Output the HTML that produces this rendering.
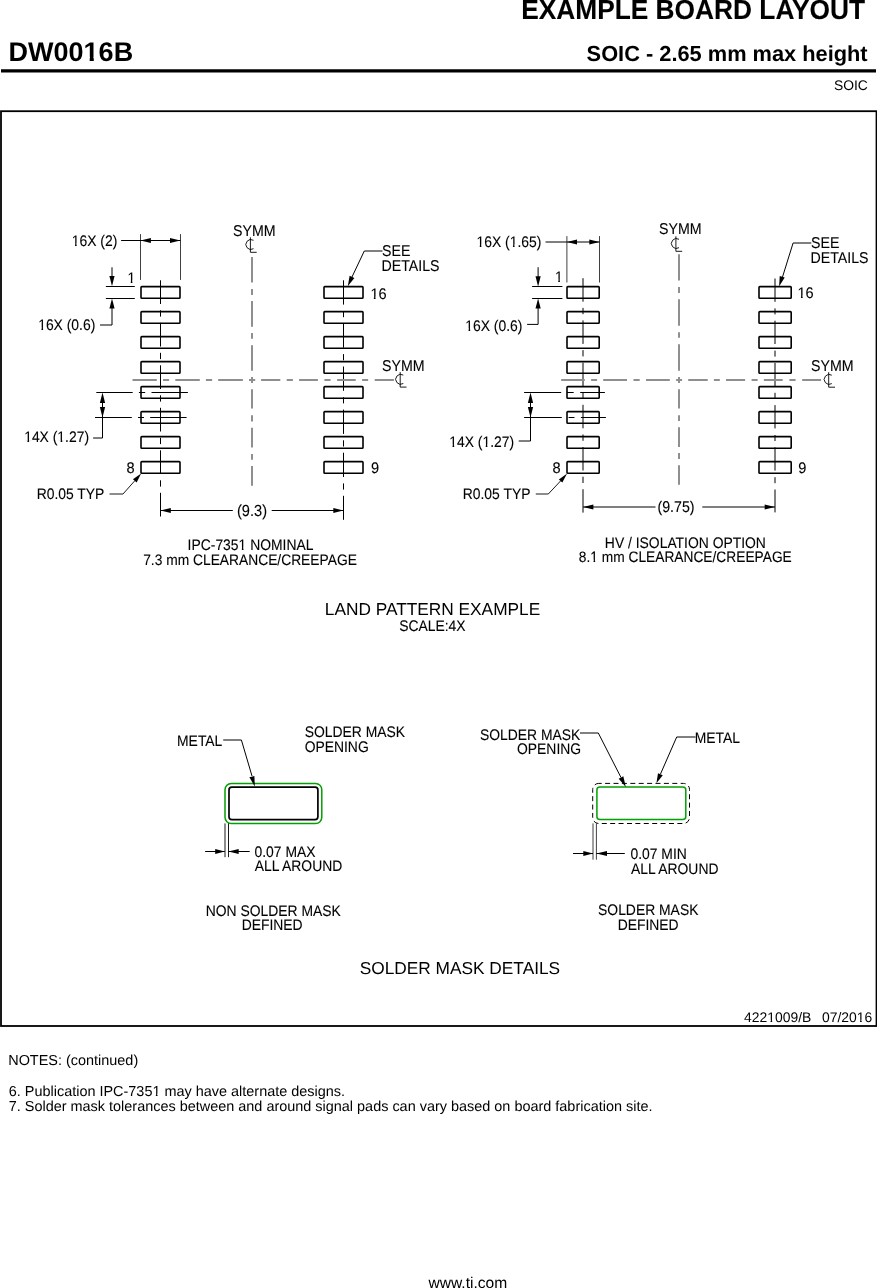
<!DOCTYPE html>
<html><head><meta charset="utf-8"><style>
html,body{margin:0;padding:0;background:#fff;}
body{width:877px;height:1288px;overflow:hidden;position:relative;}
svg{position:absolute;left:0;top:0;}
svg{will-change:transform;text-rendering:geometricPrecision;}
text{font-family:"Liberation Sans",sans-serif;}
text.s{stroke:#000;stroke-width:0.1px;}
</style></head><body>
<svg width="877" height="1288" viewBox="0 0 877 1288">
<text class="s" transform="translate(521.19,18.80) scale(1,1.05)" font-size="26.3" font-weight="bold" fill="#000">EXAMPLE BOARD LAYOUT</text>
<text x="8.58" y="60.70" font-size="27.0" font-weight="bold" fill="#000">DW0016B</text><rect x="84.48" y="56.94" width="5.20" height="5.06" fill="#fff"/><rect x="93.79" y="56.94" width="4.86" height="5.06" fill="#fff"/>
<text x="586.62" y="60.50" font-size="21.8" font-weight="bold" fill="#000">SOIC - 2.65 mm max height</text>
<line x1="1" y1="70.8" x2="876" y2="70.8" stroke="#000" stroke-width="3.3"/>
<text x="833.94" y="89.80" font-size="13.9" fill="#000">SOIC</text>
<rect x="1" y="111.2" width="875.5" height="914.8" fill="none" stroke="#000" stroke-width="1.8"/>
<rect x="141" y="286.6" width="39" height="11.6" rx="0.8" fill="none" stroke="#000" stroke-width="1.6"/>
<rect x="324" y="286.6" width="39" height="11.6" rx="0.8" fill="none" stroke="#000" stroke-width="1.6"/>
<rect x="141" y="311.6" width="39" height="11.6" rx="0.8" fill="none" stroke="#000" stroke-width="1.6"/>
<rect x="324" y="311.6" width="39" height="11.6" rx="0.8" fill="none" stroke="#000" stroke-width="1.6"/>
<rect x="141" y="336.6" width="39" height="11.6" rx="0.8" fill="none" stroke="#000" stroke-width="1.6"/>
<rect x="324" y="336.6" width="39" height="11.6" rx="0.8" fill="none" stroke="#000" stroke-width="1.6"/>
<rect x="141" y="361.6" width="39" height="11.6" rx="0.8" fill="none" stroke="#000" stroke-width="1.6"/>
<rect x="324" y="361.6" width="39" height="11.6" rx="0.8" fill="none" stroke="#000" stroke-width="1.6"/>
<rect x="141" y="386.6" width="39" height="11.6" rx="0.8" fill="none" stroke="#000" stroke-width="1.6"/>
<rect x="324" y="386.6" width="39" height="11.6" rx="0.8" fill="none" stroke="#000" stroke-width="1.6"/>
<rect x="141" y="411.6" width="39" height="11.6" rx="0.8" fill="none" stroke="#000" stroke-width="1.6"/>
<rect x="324" y="411.6" width="39" height="11.6" rx="0.8" fill="none" stroke="#000" stroke-width="1.6"/>
<rect x="141" y="436.6" width="39" height="11.6" rx="0.8" fill="none" stroke="#000" stroke-width="1.6"/>
<rect x="324" y="436.6" width="39" height="11.6" rx="0.8" fill="none" stroke="#000" stroke-width="1.6"/>
<rect x="141" y="461.6" width="39" height="11.6" rx="0.8" fill="none" stroke="#000" stroke-width="1.6"/>
<rect x="324" y="461.6" width="39" height="11.6" rx="0.8" fill="none" stroke="#000" stroke-width="1.6"/>
<path d="M160.5,280.3V304.0M160.5,310.3V316.6M160.5,322.8V346.5M160.5,352.8V359.1M160.5,365.3V389.0M160.5,395.3V401.6M160.5,407.8V431.5M160.5,437.8V444.1M160.5,450.3V474.0M160.5,480.3V486.6M160.5,492.8V516.5" stroke="#000" stroke-width="1" fill="none"/>
<path d="M343.5,280.3V304.6M343.5,311.0V317.2M343.5,323.4V347.7M343.5,354.1V360.3M343.5,366.5V390.8M343.5,397.2V403.4M343.5,409.6V433.9M343.5,440.3V446.5M343.5,452.7V477.0M343.5,483.4V489.6M343.5,495.8V519.8" stroke="#000" stroke-width="1" fill="none"/>
<path d="M252,257V282.6M252,288.9V295M252,301.1V326.7M252,333.1V338.8M252,345.2V370.7M252,377V383M252,389.3V408.6M252,415.2V421.5M252,427.8V447.4M252,453.9V459.8M252,466.1V485.7" stroke="#8f8f8f" stroke-width="2" fill="none"/>
<path d="M132.5,380H156.8M163,380H169.1M175.3,380H199.8M205.9,380H212.1M218.2,380H242.9M249,380H255.2M261.1,380H280.3M286.7,380H292.9M299.1,380H317.9M324.4,380H330.6M337.1,380H355.7M362.1,380H368.1M374.7,380H393.9" stroke="#8f8f8f" stroke-width="2" fill="none"/>
<text class="s" transform="translate(232.96,235.80) scale(1,1.1)" font-size="14.2" fill="#000">SYMM</text>
<path d="M253.50,240.30A4.96,4.96 0 1 0 253.50,248.70" stroke="#000" stroke-width="0.9" fill="none"/>
<path d="M250.4,237.3V252.3H256.7" stroke="#000" stroke-width="0.9" fill="none"/>
<text class="s" transform="translate(381.96,370.80) scale(1,1.1)" font-size="14.2" fill="#000">SYMM</text>
<path d="M403.30,375.10A4.96,4.96 0 1 0 403.30,383.50" stroke="#000" stroke-width="0.9" fill="none"/>
<path d="M400.2,372.1V387.1H406.5" stroke="#000" stroke-width="0.9" fill="none"/>
<line x1="140.5" y1="234.1" x2="140.5" y2="279.9" stroke="#000" stroke-width="0.75"/>
<line x1="180.5" y1="234.1" x2="180.5" y2="279.9" stroke="#000" stroke-width="0.75"/>
<line x1="121.1" y1="240.5" x2="180.5" y2="240.5" stroke="#000" stroke-width="1"/>
<path d="M140.60,240.50L150.90,243.10L150.90,237.90Z" fill="#000"/>
<path d="M180.40,240.50L170.00,237.90L170.00,243.10Z" fill="#000"/>
<text class="s" transform="translate(71.74,245.50) scale(1,1.1)" font-size="13.9" fill="#000">16X (2)</text><g transform="translate(71.74,245.50) scale(1,1.1)"><rect x="0.26" y="-2.04" width="3.04" height="3.34" fill="#fff"/><rect x="4.92" y="-2.04" width="2.93" height="3.34" fill="#fff"/></g>
<text class="s" transform="translate(127.46,282.70) scale(1,1.1)" font-size="13.9" fill="#000">1</text><g transform="translate(127.46,282.70) scale(1,1.1)"><rect x="0.26" y="-2.04" width="3.04" height="3.34" fill="#fff"/><rect x="4.92" y="-2.04" width="2.93" height="3.34" fill="#fff"/></g>
<line x1="105.9" y1="286.5" x2="134.8" y2="286.5" stroke="#000" stroke-width="1"/>
<line x1="105.9" y1="298.5" x2="134.8" y2="298.5" stroke="#000" stroke-width="1"/>
<line x1="112" y1="267.3" x2="112" y2="280" stroke="#000" stroke-width="1"/>
<path d="M112.00,286.30L114.60,276.00L109.40,276.00Z" fill="#000"/>
<path d="M112.00,298.60L109.40,308.60L114.60,308.60Z" fill="#000"/>
<path d="M112,305V325H100" stroke="#000" stroke-width="1" fill="none"/>
<text class="s" transform="translate(38.16,329.70) scale(1,1.1)" font-size="13.9" fill="#000">16X (0.6)</text><g transform="translate(38.16,329.70) scale(1,1.1)"><rect x="0.26" y="-2.04" width="3.04" height="3.34" fill="#fff"/><rect x="4.92" y="-2.04" width="2.93" height="3.34" fill="#fff"/></g>
<path d="M96.3,392.5H132.7M138.9,392.5H145.2M151.5,392.5H187.9" stroke="#000" stroke-width="1" fill="none"/>
<path d="M95,417.5H131.8M138,417.5H144M150.2,417.5H186.6" stroke="#000" stroke-width="1" fill="none"/>
<path d="M102.5,400V438H93.1" stroke="#000" stroke-width="1" fill="none"/>
<path d="M102.50,392.50L99.90,403.00L105.10,403.00Z" fill="#000"/>
<path d="M102.50,417.50L105.10,407.00L99.90,407.00Z" fill="#000"/>
<text class="s" transform="translate(24.16,442.40) scale(1,1.1)" font-size="13.9" fill="#000">14X (1.27)</text><g transform="translate(24.16,442.40) scale(1,1.1)"><rect x="0.26" y="-2.04" width="3.04" height="3.34" fill="#fff"/><rect x="4.92" y="-2.04" width="2.93" height="3.34" fill="#fff"/><rect x="33.45" y="-2.04" width="3.04" height="3.34" fill="#fff"/><rect x="38.11" y="-2.04" width="2.93" height="3.34" fill="#fff"/></g>
<text class="s" transform="translate(126.48,472.70) scale(1,1.045)" font-size="14.6" fill="#000">8</text>
<text class="s" transform="translate(36.65,498.50) scale(1,1.1)" font-size="13.9" fill="#000">R0.05 TYP</text>
<path d="M109.5,494H123L135,480.5" stroke="#000" stroke-width="0.9" fill="none"/>
<path d="M141.10,473.40L132.96,479.36L136.64,482.44Z" fill="#000"/>
<line x1="160.5" y1="510.5" x2="232.8" y2="510.5" stroke="#000" stroke-width="1"/>
<line x1="271.7" y1="510.5" x2="343.3" y2="510.5" stroke="#000" stroke-width="1"/>
<path d="M160.50,510.50L170.80,513.10L170.80,507.90Z" fill="#000"/>
<path d="M343.30,510.50L333.30,507.90L333.30,513.10Z" fill="#000"/>
<text class="s" transform="translate(236.99,515.90) scale(1,1.1)" font-size="14.6" fill="#000">(9.3)</text>
<text class="s" transform="translate(187.61,549.70) scale(1,1.1)" font-size="13.9" fill="#000">IPC-7351 NOMINAL</text><g transform="translate(187.61,549.70) scale(1,1.1)"><rect x="51.21" y="-2.04" width="3.04" height="3.34" fill="#fff"/><rect x="55.88" y="-2.04" width="2.93" height="3.34" fill="#fff"/></g>
<text class="s" transform="translate(143.19,564.60) scale(1,1.1)" font-size="13.8" fill="#000">7.3 mm CLEARANCE/CREEPAGE</text>
<text class="s" transform="translate(370.40,298.90) scale(1,1.045)" font-size="14.6" fill="#000">16</text><g transform="translate(370.40,298.90) scale(1,1.045)"><rect x="0.31" y="-2.09" width="3.16" height="3.39" fill="#fff"/><rect x="5.16" y="-2.09" width="3.05" height="3.39" fill="#fff"/></g>
<text class="s" transform="translate(371.11,472.60) scale(1,1.045)" font-size="14.6" fill="#000">9</text>
<text class="s" transform="translate(381.96,256.30) scale(1,1.1)" font-size="14.2" fill="#000">SEE</text>
<text class="s" transform="translate(381.43,270.70) scale(1,1.1)" font-size="14.2" fill="#000">DETAILS</text>
<path d="M382.5,251H364.3L351.5,278" stroke="#000" stroke-width="1" fill="none"/>
<path d="M347.80,286.20L354.37,277.97L349.63,275.83Z" fill="#000"/>
<rect x="567" y="286.6" width="32.2" height="11.6" rx="0.8" fill="none" stroke="#000" stroke-width="1.6"/>
<rect x="759" y="286.6" width="32.2" height="11.6" rx="0.8" fill="none" stroke="#000" stroke-width="1.6"/>
<rect x="567" y="311.6" width="32.2" height="11.6" rx="0.8" fill="none" stroke="#000" stroke-width="1.6"/>
<rect x="759" y="311.6" width="32.2" height="11.6" rx="0.8" fill="none" stroke="#000" stroke-width="1.6"/>
<rect x="567" y="336.6" width="32.2" height="11.6" rx="0.8" fill="none" stroke="#000" stroke-width="1.6"/>
<rect x="759" y="336.6" width="32.2" height="11.6" rx="0.8" fill="none" stroke="#000" stroke-width="1.6"/>
<rect x="567" y="361.6" width="32.2" height="11.6" rx="0.8" fill="none" stroke="#000" stroke-width="1.6"/>
<rect x="759" y="361.6" width="32.2" height="11.6" rx="0.8" fill="none" stroke="#000" stroke-width="1.6"/>
<rect x="567" y="386.6" width="32.2" height="11.6" rx="0.8" fill="none" stroke="#000" stroke-width="1.6"/>
<rect x="759" y="386.6" width="32.2" height="11.6" rx="0.8" fill="none" stroke="#000" stroke-width="1.6"/>
<rect x="567" y="411.6" width="32.2" height="11.6" rx="0.8" fill="none" stroke="#000" stroke-width="1.6"/>
<rect x="759" y="411.6" width="32.2" height="11.6" rx="0.8" fill="none" stroke="#000" stroke-width="1.6"/>
<rect x="567" y="436.6" width="32.2" height="11.6" rx="0.8" fill="none" stroke="#000" stroke-width="1.6"/>
<rect x="759" y="436.6" width="32.2" height="11.6" rx="0.8" fill="none" stroke="#000" stroke-width="1.6"/>
<rect x="567" y="461.6" width="32.2" height="11.6" rx="0.8" fill="none" stroke="#000" stroke-width="1.6"/>
<rect x="759" y="461.6" width="32.2" height="11.6" rx="0.8" fill="none" stroke="#000" stroke-width="1.6"/>
<path d="M583,278.2V301.7M583,307.9V314.2M583,320.4V343.9M583,350.1V356.4M583,362.6V386.1M583,392.3V398.6M583,404.8V428.3M583,434.5V440.8M583,447.0V470.5M583,476.7V483.0M583,489.2V512.6" stroke="#000" stroke-width="1" fill="none"/>
<path d="M775,278.5V301.8M775,308.4V314.4M775,320.7V344.0M775,350.6V356.6M775,362.9V386.2M775,392.8V398.8M775,405.1V428.4M775,435.0V441.0M775,447.3V470.6M775,477.2V483.2M775,489.5V512.4" stroke="#000" stroke-width="1" fill="none"/>
<path d="M679,254.2V280.5M679,287.1V292.9M679,299.2V325.7M679,332.3V337.8M679,344.2V370.8M679,377V383M679,389.3V408.5M679,415.2V420.9M679,427.3V446.9M679,453V459M679,465.3V484.8" stroke="#8f8f8f" stroke-width="2" fill="none"/>
<path d="M561.2,380H584.8M591.1,380H597.1M603.2,380H627M633.5,380H639.7M646,380H669.8M676.1,380H682.1M688.2,380H707.7M713.9,380H719.8M726,380H745.1M751.6,380H757.6M763.9,380H782.7M789.4,380H795.6M802.2,380H821" stroke="#8f8f8f" stroke-width="2" fill="none"/>
<text class="s" transform="translate(658.96,233.80) scale(1,1.1)" font-size="14.2" fill="#000">SYMM</text>
<path d="M679.00,239.30A4.96,4.96 0 1 0 679.00,247.70" stroke="#000" stroke-width="0.9" fill="none"/>
<path d="M675.9,236.3V251.3H682.1999999999999" stroke="#000" stroke-width="0.9" fill="none"/>
<text class="s" transform="translate(810.96,370.60) scale(1,1.1)" font-size="14.2" fill="#000">SYMM</text>
<path d="M831.80,375.20A4.96,4.96 0 1 0 831.80,383.60" stroke="#000" stroke-width="0.9" fill="none"/>
<path d="M828.7,372.2V387.2H835.0" stroke="#000" stroke-width="0.9" fill="none"/>
<line x1="566.9" y1="236.1" x2="566.9" y2="282.5" stroke="#000" stroke-width="0.75"/>
<line x1="599.5" y1="236.1" x2="599.5" y2="282.5" stroke="#000" stroke-width="0.75"/>
<line x1="545.5" y1="242" x2="599.5" y2="242" stroke="#000" stroke-width="1"/>
<path d="M566.90,242.00L577.00,244.60L577.00,239.40Z" fill="#000"/>
<path d="M599.50,242.00L589.30,239.40L589.30,244.60Z" fill="#000"/>
<text class="s" transform="translate(476.46,246.80) scale(1,1.1)" font-size="13.9" fill="#000">16X (1.65)</text><g transform="translate(476.46,246.80) scale(1,1.1)"><rect x="0.26" y="-2.04" width="3.04" height="3.34" fill="#fff"/><rect x="4.92" y="-2.04" width="2.93" height="3.34" fill="#fff"/><rect x="33.45" y="-2.04" width="3.04" height="3.34" fill="#fff"/><rect x="38.11" y="-2.04" width="2.93" height="3.34" fill="#fff"/></g>
<text class="s" transform="translate(554.96,281.80) scale(1,1.1)" font-size="13.9" fill="#000">1</text><g transform="translate(554.96,281.80) scale(1,1.1)"><rect x="0.26" y="-2.04" width="3.04" height="3.34" fill="#fff"/><rect x="4.92" y="-2.04" width="2.93" height="3.34" fill="#fff"/></g>
<line x1="532.1" y1="286.5" x2="562.4" y2="286.5" stroke="#000" stroke-width="1"/>
<line x1="532.1" y1="298.5" x2="562.4" y2="298.5" stroke="#000" stroke-width="1"/>
<line x1="538.1" y1="267.2" x2="538.1" y2="280" stroke="#000" stroke-width="1"/>
<path d="M538.10,286.40L540.70,276.20L535.50,276.20Z" fill="#000"/>
<path d="M538.10,298.40L535.50,308.40L540.70,308.40Z" fill="#000"/>
<path d="M538.1,305V324.4H527.1" stroke="#000" stroke-width="1" fill="none"/>
<text class="s" transform="translate(465.26,330.70) scale(1,1.1)" font-size="13.9" fill="#000">16X (0.6)</text><g transform="translate(465.26,330.70) scale(1,1.1)"><rect x="0.26" y="-2.04" width="3.04" height="3.34" fill="#fff"/><rect x="4.92" y="-2.04" width="2.93" height="3.34" fill="#fff"/></g>
<path d="M524.1,392.5H561.2M567,392.5H573.7M580.2,392.5H604.9" stroke="#000" stroke-width="1" fill="none"/>
<path d="M524.1,417.5H561.8M568.6,417.5H574.5M580.9,417.5H605.9" stroke="#000" stroke-width="1" fill="none"/>
<path d="M530.5,400V441H518.7" stroke="#000" stroke-width="1" fill="none"/>
<path d="M530.50,392.50L527.90,403.00L533.10,403.00Z" fill="#000"/>
<path d="M530.50,417.50L533.10,407.00L527.90,407.00Z" fill="#000"/>
<text class="s" transform="translate(449.26,446.70) scale(1,1.1)" font-size="13.9" fill="#000">14X (1.27)</text><g transform="translate(449.26,446.70) scale(1,1.1)"><rect x="0.26" y="-2.04" width="3.04" height="3.34" fill="#fff"/><rect x="4.92" y="-2.04" width="2.93" height="3.34" fill="#fff"/><rect x="33.45" y="-2.04" width="3.04" height="3.34" fill="#fff"/><rect x="38.11" y="-2.04" width="2.93" height="3.34" fill="#fff"/></g>
<text class="s" transform="translate(552.58,473.20) scale(1,1.045)" font-size="14.6" fill="#000">8</text>
<text class="s" transform="translate(462.75,498.50) scale(1,1.1)" font-size="13.9" fill="#000">R0.05 TYP</text>
<path d="M535.8,494H548.3L561,480.5" stroke="#000" stroke-width="0.9" fill="none"/>
<path d="M567.10,473.50L558.86,479.49L562.34,482.51Z" fill="#000"/>
<line x1="583.1" y1="507" x2="655.5" y2="507" stroke="#000" stroke-width="1"/>
<line x1="702.3" y1="507" x2="775" y2="507" stroke="#000" stroke-width="1"/>
<path d="M583.10,507.00L593.40,509.60L593.40,504.40Z" fill="#000"/>
<path d="M775.00,507.00L764.70,504.40L764.70,509.60Z" fill="#000"/>
<text class="s" transform="translate(657.51,512.10) scale(1,1.1)" font-size="14.2" fill="#000">(9.75)</text>
<text class="s" transform="translate(604.85,547.70) scale(1,1.1)" font-size="13.9" fill="#000">HV / ISOLATION OPTION</text>
<text class="s" transform="translate(578.82,561.90) scale(1,1.1)" font-size="13.75" fill="#000">8.1 mm CLEARANCE/CREEPAGE</text><g transform="translate(578.82,561.90) scale(1,1.1)"><rect x="11.70" y="-2.03" width="3.01" height="3.33" fill="#fff"/><rect x="16.33" y="-2.03" width="2.90" height="3.33" fill="#fff"/></g>
<text class="s" transform="translate(797.50,297.90) scale(1,1.045)" font-size="14.6" fill="#000">16</text><g transform="translate(797.50,297.90) scale(1,1.045)"><rect x="0.31" y="-2.09" width="3.16" height="3.39" fill="#fff"/><rect x="5.16" y="-2.09" width="3.05" height="3.39" fill="#fff"/></g>
<text class="s" transform="translate(798.21,472.60) scale(1,1.045)" font-size="14.6" fill="#000">9</text>
<text class="s" transform="translate(810.96,248.40) scale(1,1.1)" font-size="14.2" fill="#000">SEE</text>
<text class="s" transform="translate(810.43,262.50) scale(1,1.1)" font-size="14.2" fill="#000">DETAILS</text>
<path d="M811.3,243H793.1L782.5,277" stroke="#000" stroke-width="1" fill="none"/>
<path d="M779.10,286.40L784.67,277.60L779.73,276.00Z" fill="#000"/>
<text x="324.77" y="614.80" font-size="17.3" fill="#000">LAND PATTERN EXAMPLE</text>
<text class="s" transform="translate(399.17,630.80) scale(1,1.1)" font-size="13.9" fill="#000">SCALE:4X</text>
<rect x="225" y="783.4" width="96.8" height="40.2" rx="6.3" fill="none" stroke="#03a003" stroke-width="1.5"/>
<rect x="229" y="787.1" width="88.9" height="32.5" rx="2.8" fill="none" stroke="#000" stroke-width="1.7"/>
<line x1="225" y1="823.4" x2="225" y2="857.2" stroke="#000" stroke-width="0.9"/>
<line x1="228.5" y1="823.4" x2="228.5" y2="857.2" stroke="#000" stroke-width="0.9"/>
<line x1="205.1" y1="851.5" x2="224.8" y2="851.5" stroke="#000" stroke-width="1"/>
<line x1="228.5" y1="851.5" x2="249.7" y2="851.5" stroke="#000" stroke-width="1"/>
<path d="M224.80,851.50L215.20,848.90L215.20,854.10Z" fill="#000"/>
<path d="M228.40,851.50L238.70,854.10L238.70,848.90Z" fill="#000"/>
<text class="s" transform="translate(177.05,746.00) scale(1,1.1)" font-size="13.9" fill="#000">METAL</text>
<path d="M223.2,740H241.4L252,776" stroke="#000" stroke-width="1" fill="none"/>
<path d="M254.80,786.60L254.40,775.88L249.40,777.32Z" fill="#000"/>
<text class="s" transform="translate(304.67,737.10) scale(1,1.1)" font-size="13.9" fill="#000">SOLDER MASK</text>
<text class="s" transform="translate(304.64,751.50) scale(1,1.1)" font-size="13.9" fill="#000">OPENING</text>
<text class="s" transform="translate(254.54,856.60) scale(1,1.1)" font-size="13.9" fill="#000">0.07 MAX</text>
<text class="s" transform="translate(254.77,871.30) scale(1,1.1)" font-size="13.9" fill="#000">ALL AROUND</text>
<rect x="592.7" y="783.4" width="96.8" height="40.1" rx="6" fill="none" stroke="#000" stroke-width="1" stroke-dasharray="5 3.4" stroke-dashoffset="2"/>
<rect x="596.9" y="787.1" width="88.9" height="32.5" rx="3" fill="none" stroke="#03a003" stroke-width="1.5"/>
<line x1="593" y1="823.4" x2="593" y2="859.7" stroke="#000" stroke-width="0.75"/>
<line x1="596.4" y1="823.4" x2="596.4" y2="859.7" stroke="#000" stroke-width="0.75"/>
<line x1="573" y1="853.5" x2="593" y2="853.5" stroke="#000" stroke-width="1"/>
<line x1="596.4" y1="853.5" x2="624.8" y2="853.5" stroke="#000" stroke-width="1"/>
<path d="M593.00,853.50L583.30,850.90L583.30,856.10Z" fill="#000"/>
<path d="M596.40,853.50L607.00,856.10L607.00,850.90Z" fill="#000"/>
<text class="s" transform="translate(479.97,739.80) scale(1,1.1)" font-size="13.9" fill="#000">SOLDER MASK</text>
<text class="s" transform="translate(517.03,754.00) scale(1,1.1)" font-size="13.9" fill="#000">OPENING</text>
<path d="M580,733H598.3L621,777.5" stroke="#000" stroke-width="1" fill="none"/>
<path d="M625.80,787.00L623.32,776.33L618.68,778.67Z" fill="#000"/>
<text class="s" transform="translate(694.75,743.10) scale(1,1.1)" font-size="13.9" fill="#000">METAL</text>
<path d="M695.5,737H676.7L660.5,774" stroke="#000" stroke-width="1" fill="none"/>
<path d="M656.40,783.30L662.78,775.25L658.02,773.15Z" fill="#000"/>
<text class="s" transform="translate(630.44,858.80) scale(1,1.1)" font-size="13.9" fill="#000">0.07 MIN</text>
<text class="s" transform="translate(630.97,874.40) scale(1,1.1)" font-size="13.9" fill="#000">ALL AROUND</text>
<text class="s" transform="translate(205.75,916.00) scale(1,1.1)" font-size="13.9" fill="#000">NON SOLDER MASK</text>
<text class="s" transform="translate(241.65,929.70) scale(1,1.1)" font-size="13.9" fill="#000">DEFINED</text>
<text class="s" transform="translate(598.07,915.00) scale(1,1.1)" font-size="13.9" fill="#000">SOLDER MASK</text>
<text class="s" transform="translate(617.65,929.80) scale(1,1.1)" font-size="13.9" fill="#000">DEFINED</text>
<text x="359.72" y="973.80" font-size="17.3" fill="#000">SOLDER MASK DETAILS</text>
<text x="744.09" y="1021.90" font-size="13.9" fill="#000">4221009/B</text><rect x="767.52" y="1019.86" width="3.04" height="3.34" fill="#fff"/><rect x="772.19" y="1019.86" width="2.93" height="3.34" fill="#fff"/>
<text x="822.04" y="1021.90" font-size="13.9" fill="#000">07/2016</text><rect x="857.05" y="1019.86" width="3.04" height="3.34" fill="#fff"/><rect x="861.71" y="1019.86" width="2.93" height="3.34" fill="#fff"/>
<text x="8.21" y="1064.80" font-size="14.45" fill="#000">NOTES: (continued)</text>
<text x="8.78" y="1095.60" font-size="14.45" fill="#000">6. Publication IPC-7351 may have alternate designs.</text><rect x="152.72" y="1093.52" width="3.13" height="3.38" fill="#fff"/><rect x="157.53" y="1093.52" width="3.02" height="3.38" fill="#fff"/>
<text x="8.78" y="1111.10" font-size="14.45" fill="#000">7. Solder mask tolerances between and around signal pads can vary based on board fabrication site.</text>
<text x="428.44" y="1288.00" font-size="15.6" fill="#000">www.ti.com</text>
</svg>
</body></html>
